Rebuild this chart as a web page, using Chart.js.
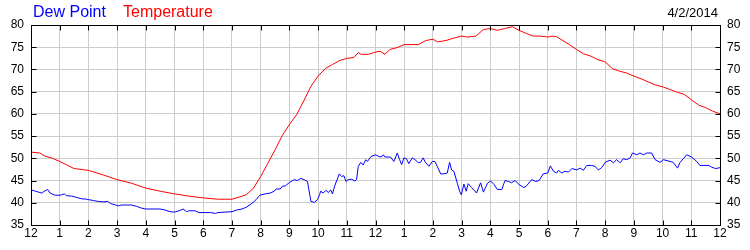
<!DOCTYPE html>
<html lang="en">
<head>
    <meta charset="UTF-8">
    <title>Dew Point / Temperature 4/2/2014</title>
    <script src="https://cdn.jsdelivr.net/npm/chart.js"></script>
    <style>
        body { margin: 0; background: #fff; }
        .wrap { position: relative; width: 750px; height: 250px; }
        .head {
            position: absolute;
            top: 3px;
            font-family: "Liberation Sans", Arial, sans-serif;
            font-size: 16px;
            white-space: nowrap;
        }
        .date {
            position: absolute;
            top: 5px;
            right: 32px;
            font-family: "Liberation Sans", Arial, sans-serif;
            font-size: 13px;
            color: #000;
        }
    </style>
</head>
<body>
<div class="wrap">
    <canvas id="chart" width="750" height="250"></canvas>
    <span class="head" style="left:33px;color:#0000ff">Dew Point</span>
    <span class="head" style="left:123px;color:#ff0000">Temperature</span>
    <span class="date">4/2/2014</span>
</div>
<script>
// hours after midnight
var tempHours = [0, 0.31, 0.49, 0.75, 1.0, 1.25, 1.5, 2.0, 2.5, 3.0, 3.5, 4.0, 4.5, 5.0, 5.5, 6.0, 6.5, 7.0, 7.25, 7.5,
    7.75, 8.0, 8.25, 8.5, 8.75, 9.0, 9.25, 9.5, 9.75, 10.0, 10.25, 10.5, 10.75, 11.0, 11.25, 11.4, 11.5, 11.75, 12.0, 12.16,
    12.33, 12.5, 12.75, 13.0, 13.5, 13.75, 14.0, 14.16, 14.35, 14.5, 14.75, 15.0, 15.17, 15.5, 15.76, 16.0, 16.24, 16.5, 16.77, 17.0,
    17.25, 17.5, 17.75, 18.0, 18.15, 18.3, 18.6, 18.75, 19.0, 19.25, 19.5, 19.75, 20.0, 20.25, 20.5, 20.75, 21.0, 21.25, 21.5, 21.75,
    22.0, 22.25, 22.5, 22.75, 23.0, 23.25, 23.5, 23.75, 24.0];
var tempValues = [51.4, 51.2, 50.5, 50.0, 49.3, 48.5, 47.7, 47.3, 46.3, 45.2, 44.4, 43.3, 42.6, 42.0, 41.5, 41.1, 40.8, 40.8, 41.3, 41.8,
    43.3, 45.9, 48.9, 51.9, 55.1, 57.6, 59.8, 62.9, 66.2, 68.5, 70.2, 71.1, 72.0, 72.5, 72.7, 73.8, 73.4, 73.4, 73.9, 74.1,
    73.4, 74.5, 74.9, 75.6, 75.6, 76.5, 76.8, 76.2, 76.4, 76.6, 77.1, 77.5, 77.3, 77.5, 79.0, 79.2, 78.8, 79.2, 79.6, 78.8,
    78.1, 77.5, 77.5, 77.3, 77.5, 77.4, 76.2, 75.6, 74.5, 73.5, 73.0, 72.2, 71.7, 70.2, 69.6, 69.2, 68.5, 67.9, 67.2, 66.5,
    66.1, 65.5, 64.9, 64.4, 63.2, 62.0, 61.4, 60.6, 60.0];

var dewHours = [0, 0.16, 0.26, 0.37, 0.49, 0.58, 0.66, 0.84, 1.01, 1.07, 1.16, 1.24, 1.42, 1.59, 1.76, 1.94, 2.01, 2.18, 2.34, 2.51,
    2.67, 2.78, 2.95, 3.04, 3.16, 3.33, 3.5, 3.68, 3.85, 3.99, 4.49, 4.66, 4.84, 5.0, 5.16, 5.3, 5.42, 5.5, 5.71, 5.85,
    6.0, 6.25, 6.43, 6.5, 7.01, 7.18, 7.35, 7.5, 7.66, 7.76, 7.84, 7.97, 8.16, 8.34, 8.47, 8.54, 8.68, 8.75, 8.86, 9.01,
    9.17, 9.28, 9.4, 9.51, 9.63, 9.7, 9.75, 9.87, 9.98, 10.05, 10.09, 10.18, 10.27, 10.36, 10.44, 10.5, 10.59, 10.74, 10.82, 10.9,
    10.97, 11.05, 11.17, 11.28, 11.34, 11.4, 11.49, 11.57, 11.66, 11.72, 11.84, 12.0, 12.12, 12.21, 12.27, 12.33, 12.52, 12.64, 12.76, 12.84,
    12.91, 12.99, 13.08, 13.16, 13.28, 13.4, 13.49, 13.57, 13.66, 13.74, 13.86, 13.98, 14.07, 14.15, 14.27, 14.38, 14.5, 14.58, 14.65, 14.73,
    14.85, 14.93, 14.99, 15.08, 15.16, 15.23, 15.35, 15.52, 15.66, 15.76, 15.9, 16.01, 16.13, 16.24, 16.4, 16.51, 16.63, 16.74, 16.86, 17.0,
    17.17, 17.26, 17.44, 17.58, 17.7, 17.84, 18.0, 18.09, 18.2, 18.31, 18.37, 18.49, 18.6, 18.72, 18.84, 19.01, 19.13, 19.24, 19.36, 19.53,
    19.65, 19.76, 19.88, 20.0, 20.17, 20.29, 20.4, 20.52, 20.63, 20.75, 20.87, 20.95, 21.1, 21.21, 21.33, 21.45, 21.62, 21.74, 21.91, 22.03,
    22.26, 22.37, 22.52, 22.61, 22.72, 22.84, 23.01, 23.19, 23.3, 23.48, 23.61, 23.71, 23.85, 24.0];
var dewValues = [42.9, 42.6, 42.4, 42.2, 42.7, 43.0, 42.2, 41.7, 41.7, 41.8, 42.0, 41.6, 41.5, 41.2, 40.9, 40.8, 40.7, 40.5, 40.3, 40.2,
    40.3, 39.8, 39.5, 39.3, 39.5, 39.5, 39.5, 39.2, 38.8, 38.6, 38.6, 38.4, 38.0, 37.9, 38.2, 38.6, 38.0, 38.2, 38.2, 37.8,
    37.8, 37.8, 37.6, 37.8, 38.0, 38.4, 38.6, 39.0, 39.7, 40.2, 40.7, 41.7, 42.0, 42.2, 42.6, 43.1, 43.1, 43.7, 43.8, 44.6,
    45.2, 45.0, 45.5, 45.2, 44.8, 42.2, 40.3, 40.1, 40.7, 41.8, 42.6, 42.2, 42.8, 42.3, 42.9, 42.0, 44.0, 46.5, 45.9, 46.1,
    44.8, 45.2, 45.3, 44.9, 45.2, 48.2, 49.1, 48.5, 49.7, 49.3, 50.4, 50.8, 50.4, 50.3, 50.8, 50.3, 50.3, 49.3, 51.2, 49.7,
    48.6, 50.1, 49.9, 48.8, 50.1, 49.6, 49.0, 49.1, 50.1, 49.1, 48.2, 49.3, 49.3, 48.2, 46.5, 46.5, 46.7, 49.1, 47.4, 47.1,
    44.4, 42.6, 41.8, 44.2, 42.6, 44.3, 43.4, 42.2, 44.5, 42.4, 44.4, 44.9, 44.1, 43.0, 43.0, 45.0, 44.8, 44.5, 45.0, 44.1,
    43.4, 43.8, 45.2, 44.8, 45.0, 46.5, 46.7, 48.3, 47.1, 46.7, 47.3, 46.7, 47.1, 46.9, 47.7, 47.4, 47.8, 47.3, 48.4, 48.4,
    48.2, 47.4, 47.9, 49.1, 49.6, 49.0, 49.7, 49.0, 49.9, 49.7, 50.1, 51.2, 50.8, 51.2, 50.8, 51.2, 51.2, 49.7, 49.1, 49.7,
    49.3, 49.1, 47.8, 49.1, 49.9, 50.8, 50.3, 49.3, 48.4, 48.4, 48.4, 48.0, 47.7, 47.9];

var yTicks = [35, 40, 45, 50, 55, 60, 65, 70, 75, 80];
var hourLabels = [12, 1, 2, 3, 4, 5, 6, 7, 8, 9, 10, 11, 12, 1, 2, 3, 4, 5, 6, 7, 8, 9, 10, 11, 12];

function toPoints(xs, ys) {
    return xs.map(function (x, i) { return { x: x, y: ys[i] }; });
}

// black frame round the plot plus short inward tick marks
var frameTicks = {
    id: 'frameTicks',
    afterDraw: function (chart) {
        var ctx = chart.ctx;
        var a = chart.chartArea;
        var xs = chart.scales.x, ys = chart.scales.y;
        var L = Math.round(a.left) + 0.5, R = Math.round(a.right) + 0.5;
        var T = Math.round(a.top) + 0.5, B = Math.round(a.bottom) + 0.5;
        ctx.save();
        ctx.strokeStyle = '#000';
        ctx.lineWidth = 1;
        ctx.strokeRect(L, T, R - L, B - T);
        ctx.beginPath();
        xs.ticks.forEach(function (t) {
            var px = Math.round(xs.getPixelForValue(t.value)) + 0.5;
            ctx.moveTo(px, B); ctx.lineTo(px, B - 5);
            ctx.moveTo(px, T); ctx.lineTo(px, T + 5);
        });
        ys.ticks.forEach(function (t) {
            var py = Math.round(ys.getPixelForValue(t.value)) + 0.5;
            ctx.moveTo(L, py); ctx.lineTo(L + 5, py);
            ctx.moveTo(R, py); ctx.lineTo(R - 5, py);
        });
        ctx.stroke();
        ctx.restore();
    }
};

var tickFont = { family: '"Liberation Sans", Arial, sans-serif', size: 12 };

new Chart(document.getElementById('chart').getContext('2d'), {
    type: 'line',
    data: {
        datasets: [
            {
                label: 'Dew Point',
                data: toPoints(dewHours, dewValues),
                borderColor: '#0000ff',
                borderWidth: 1,
                pointRadius: 0,
                tension: 0
            },
            {
                label: 'Temperature',
                data: toPoints(tempHours, tempValues),
                borderColor: '#ff0000',
                borderWidth: 1,
                pointRadius: 0,
                tension: 0
            }
        ]
    },
    options: {
        responsive: false,
        animation: false,
        layout: { padding: { top: 25, left: 0, right: 0, bottom: 0 } },
        plugins: {
            legend: { display: false },
            tooltip: { enabled: false }
        },
        scales: {
            x: {
                type: 'linear',
                min: 0,
                max: 24,
                afterFit: function (s) { s.height = 25; },
                afterBuildTicks: function (s) {
                    s.ticks = hourLabels.map(function (_, i) { return { value: i }; });
                },
                ticks: {
                    autoSkip: false,
                    maxRotation: 0,
                    padding: 1,
                    color: '#000',
                    font: tickFont,
                    callback: function (v) { return hourLabels[v]; }
                },
                grid: { color: '#cccccc', drawTicks: false },
                border: { display: false }
            },
            y: {
                position: 'left',
                min: 35,
                max: 80,
                afterFit: function (s) { s.width = 31; },
                afterBuildTicks: function (s) {
                    s.ticks = yTicks.map(function (v) { return { value: v }; });
                },
                ticks: { padding: 7, color: '#000', font: tickFont },
                grid: { color: '#cccccc', drawTicks: false },
                border: { display: false }
            },
            y2: {
                position: 'right',
                min: 35,
                max: 80,
                afterFit: function (s) { s.width = 30; },
                afterBuildTicks: function (s) {
                    s.ticks = yTicks.map(function (v) { return { value: v }; });
                },
                ticks: { padding: 7, color: '#000', font: tickFont },
                grid: { display: false, drawTicks: false },
                border: { display: false }
            }
        }
    },
    plugins: [frameTicks]
});
</script>
</body>
</html>
